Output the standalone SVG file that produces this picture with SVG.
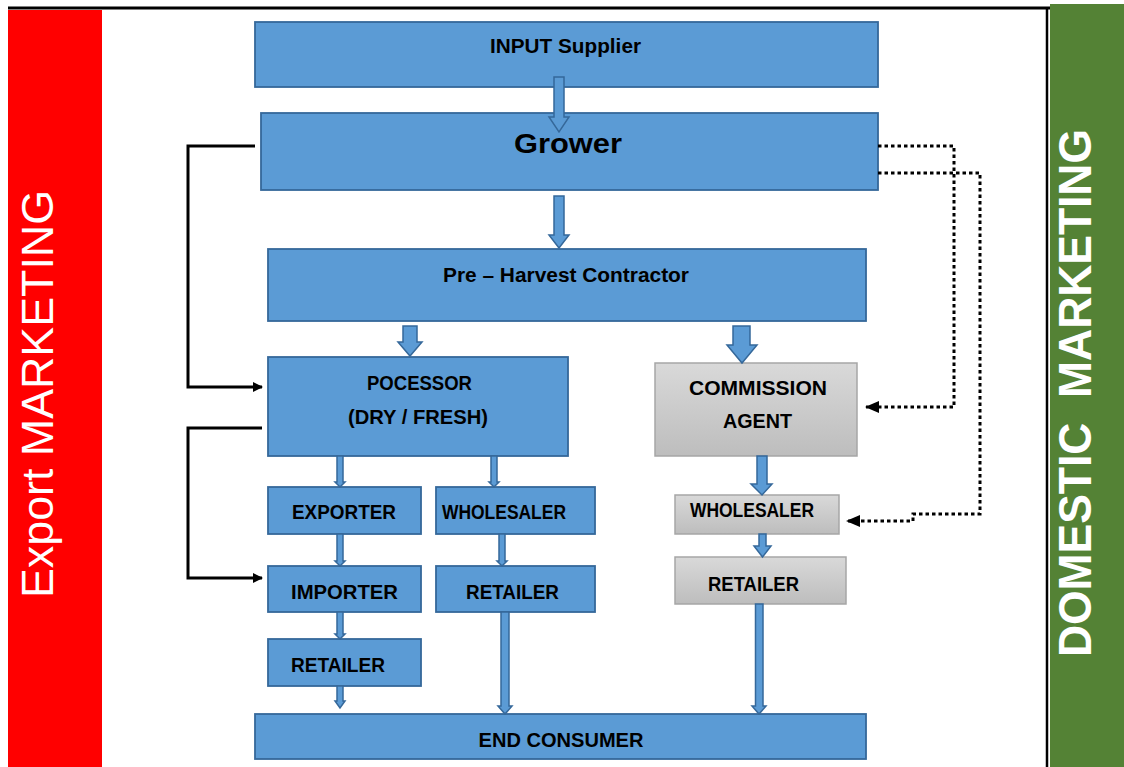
<svg xmlns="http://www.w3.org/2000/svg" width="1124" height="767" viewBox="0 0 1124 767">
<defs>
<style>
.box{fill:#5b9bd5;stroke:#35689a;stroke-width:1.8}
.gbox{fill:url(#gray);stroke:#a6a6a6;stroke-width:1.5}
.lbl{font-family:"Liberation Sans",Arial,sans-serif;font-weight:bold;font-size:20px;fill:#000;text-anchor:middle}
.arr{fill:#5b9bd5;stroke:#35689a;stroke-width:1.5;stroke-linejoin:miter}
.solid{fill:none;stroke:#000;stroke-width:3}
.dot{fill:none;stroke:#000;stroke-width:3;stroke-dasharray:3.5 3}
</style>
<linearGradient id="gray" x1="0" y1="0" x2="0" y2="1">
<stop offset="0" stop-color="#d9d9d9"/>
<stop offset="1" stop-color="#bdbdbd"/>
</linearGradient>
<marker id="ah" markerWidth="10" markerHeight="10" refX="9" refY="5" orient="auto" markerUnits="userSpaceOnUse">
<path d="M0,0 L10,5 L0,10 Z" fill="#000"/>
</marker>
<marker id="ahd" markerWidth="14" markerHeight="12" refX="13" refY="6" orient="auto" markerUnits="userSpaceOnUse">
<path d="M0,0 L14,6 L0,12 Z" fill="#000"/>
</marker>
</defs>
<rect width="1124" height="767" fill="#fff"/>

<g id="bands">
<rect x="8" y="10" width="94" height="757" fill="#ff0000"/>
<rect x="1050" y="4" width="74" height="763" fill="#548235"/>
<line x1="8" y1="8" x2="1050" y2="8" stroke="#000" stroke-width="3"/>
<line x1="1047" y1="8" x2="1047" y2="767" stroke="#000" stroke-width="2.5"/>
<text transform="translate(53,394) rotate(-90)" x="0" y="0" font-family="'Liberation Sans',Arial,sans-serif" font-size="45" fill="#fff" text-anchor="middle" textLength="408" lengthAdjust="spacingAndGlyphs">Export MARKETING</text>
<text transform="translate(1091,393) rotate(-90)" x="0" y="0" font-family="'Liberation Sans',Arial,sans-serif" font-weight="bold" font-size="47" fill="#fff" text-anchor="middle" textLength="528" lengthAdjust="spacingAndGlyphs" xml:space="preserve">DOMESTIC  MARKETING</text>
</g>

<g id="input-supplier">
<rect class="box" x="255" y="22" width="623" height="65"/>
<text class="lbl" x="565.5" y="53" font-size="19" textLength="151" lengthAdjust="spacingAndGlyphs">INPUT Supplier</text>
</g>
<g id="grower">
<rect class="box" x="261" y="113" width="617" height="77"/>
<text class="lbl" x="568" y="153" style="font-size:27px" textLength="108" lengthAdjust="spacingAndGlyphs">Grower</text>
</g>
<g id="pre-harvest">
<rect class="box" x="268" y="249" width="598" height="72"/>
<text class="lbl" x="566" y="282" textLength="246" lengthAdjust="spacingAndGlyphs">Pre – Harvest Contractor</text>
</g>
<g id="processor">
<rect class="box" x="268" y="357" width="300" height="99"/>
<text class="lbl" x="419.5" y="390" textLength="105" lengthAdjust="spacingAndGlyphs">POCESSOR</text>
<text class="lbl" x="418" y="424" textLength="140" lengthAdjust="spacingAndGlyphs">(DRY / FRESH)</text>
</g>
<g id="exporter">
<rect class="box" x="268" y="487" width="153" height="47"/>
<text class="lbl" x="344" y="519" textLength="104" lengthAdjust="spacingAndGlyphs">EXPORTER</text>
</g>
<g id="wholesaler-export">
<rect class="box" x="436" y="487" width="159" height="47"/>
<text class="lbl" x="504" y="519" textLength="124" lengthAdjust="spacingAndGlyphs">WHOLESALER</text>
</g>
<g id="importer">
<rect class="box" x="268" y="566" width="153" height="46"/>
<text class="lbl" x="344.5" y="599" textLength="107" lengthAdjust="spacingAndGlyphs">IMPORTER</text>
</g>
<g id="retailer-mid">
<rect class="box" x="436" y="566" width="159" height="46"/>
<text class="lbl" x="512.5" y="599" textLength="93" lengthAdjust="spacingAndGlyphs">RETAILER</text>
</g>
<g id="retailer-export">
<rect class="box" x="268" y="639" width="153" height="47"/>
<text class="lbl" x="338" y="672" textLength="94" lengthAdjust="spacingAndGlyphs">RETAILER</text>
</g>
<g id="end-consumer">
<rect class="box" x="255" y="714" width="611" height="45"/>
<text class="lbl" x="561" y="747" textLength="165" lengthAdjust="spacingAndGlyphs">END CONSUMER</text>
</g>
<g id="commission-agent">
<rect class="gbox" x="655" y="363" width="202" height="93"/>
<text class="lbl" x="758" y="395" textLength="138" lengthAdjust="spacingAndGlyphs">COMMISSION</text>
<text class="lbl" x="757.5" y="428" textLength="69" lengthAdjust="spacingAndGlyphs">AGENT</text>
</g>
<g id="wholesaler-domestic">
<rect class="gbox" x="675" y="495" width="164" height="39"/>
<text class="lbl" x="752" y="517" textLength="124" lengthAdjust="spacingAndGlyphs">WHOLESALER</text>
</g>
<g id="retailer-domestic">
<rect class="gbox" x="675" y="557" width="171" height="47"/>
<text class="lbl" x="753.5" y="591" textLength="91" lengthAdjust="spacingAndGlyphs">RETAILER</text>
</g>

<g id="connectors">
<polygon class="arr" points="554,77 564,77 564,117 569,117 559,132 549,117 554,117"/>
<polygon class="arr" points="554,196 564,196 564,235 569,235 559,248 549,235 554,235"/>
<polygon class="arr" points="403,326 417,326 417,342 422,342 410,356 398,342 403,342"/>
<polygon class="arr" points="733,326 750,326 750,345 757,345 742,363 727,345 733,345"/>
<polygon class="arr" points="757,456 767,456 767,484 772,484 762,495 751,484 757,484"/>
<polygon class="arr" points="759,534 766,534 766,546 771,546 762.5,557 754,546 759,546"/>
<polygon class="arr" points="337,456 343,456 343,482 345,482 340,487 335,482 337,482"/>
<polygon class="arr" points="491,456 497,456 497,482 499,482 494,487 489,482 491,482"/>
<polygon class="arr" points="337,534 343,534 343,561 345,561 340,566 335,561 337,561"/>
<polygon class="arr" points="499,534 505,534 505,561 507,561 502,566 497,561 499,561"/>
<polygon class="arr" points="337,612 343,612 343,634 345,634 340,639 335,634 337,634"/>
<polygon class="arr" points="337,686 343,686 343,701 345,701 340,708 335,701 337,701"/>
<polygon class="arr" points="501,612 509,612 509,706 512,706 505,714 498,706 501,706"/>
<polygon class="arr" points="755.5,604 763,604 763,706 766,706 759,714 752,706 755.5,706"/>
<path class="solid" d="M255,146 H188 V387 H262" marker-end="url(#ah)"/>
<path class="solid" d="M262,428 H188 V578 H262" marker-end="url(#ah)"/>
<path class="dot" d="M878,146 H954 V407 H866" marker-end="url(#ahd)"/>
<path class="dot" d="M878,173 H980 V514 H913 V521 H847" marker-end="url(#ahd)"/>
</g>
</svg>
